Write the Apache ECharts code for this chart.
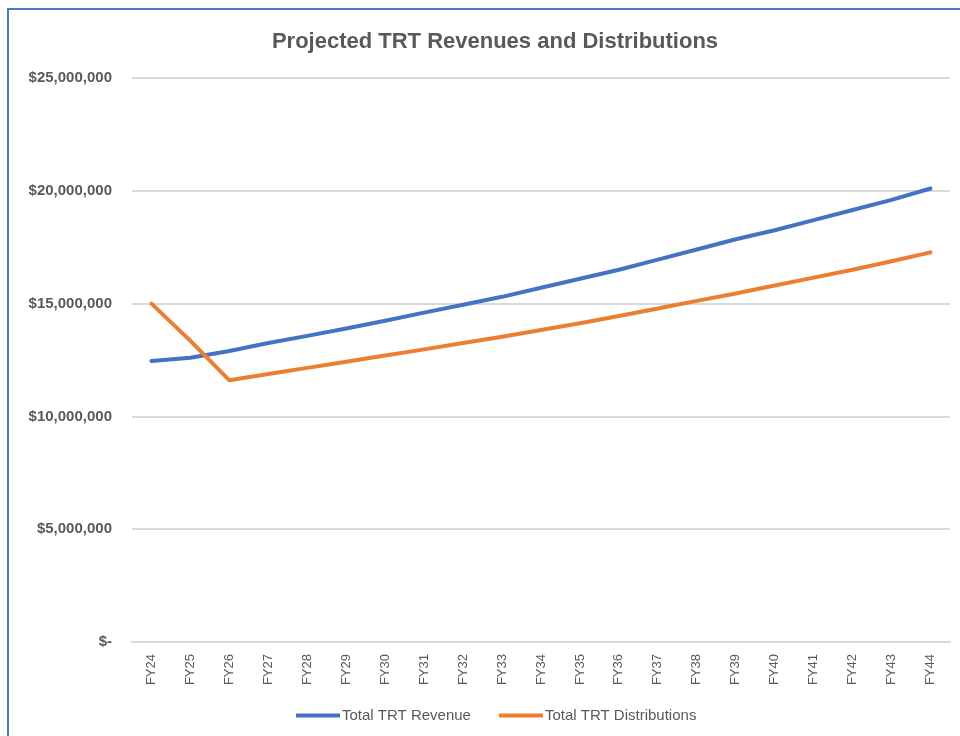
<!DOCTYPE html>
<html>
<head>
<meta charset="utf-8">
<script src="https://cdn.jsdelivr.net/npm/echarts@6/dist/echarts.min.js"></script>
<style>
  html, body { margin: 0; padding: 0; background: #fff; }
  #chart { width: 960px; height: 736px; }
</style>
</head>
<body>
<div id="chart"></div>
<script>
// fiscal years
const years = ['FY24', 'FY25', 'FY26', 'FY27', 'FY28', 'FY29', 'FY30', 'FY31', 'FY32', 'FY33', 'FY34',
  'FY35', 'FY36', 'FY37', 'FY38', 'FY39', 'FY40', 'FY41', 'FY42', 'FY43', 'FY44']

// values in dollars
const revenue = [12460000, 12600000, 12900000, 13250000, 13570000, 13900000, 14240000, 14600000, 14950000,
  15300000, 15700000, 16100000, 16500000, 16950000, 17400000, 17850000, 18250000, 18700000, 19150000,
  19600000, 20100000]
const distributions = [15000000, 13350000, 11600000, 11880000, 12150000, 12420000, 12700000, 12970000,
  13250000, 13530000, 13830000, 14130000, 14450000, 14780000, 15120000, 15450000, 15800000, 16150000,
  16500000, 16880000, 17270000]

const seriesNames = ['Total TRT Revenue', 'Total TRT Distributions']

const textGray = '#595959'
const gridGray = '#d9d9d9'

function moneyLabel(v) {
  if (v === 0) return '$-'
  return '$' + v.toLocaleString('en-US')
}

const chart = echarts.init(document.getElementById('chart'))

chart.setOption({
  animation: false,
  color: ['#4472C4', '#ED7D31'],
  textStyle: { fontFamily: 'Liberation Sans, sans-serif' },
  title: {
    text: 'Projected TRT Revenues and Distributions',
    left: 490,
    top: 26,
    textAlign: 'center',
    textStyle: { color: textGray, fontSize: 22, fontWeight: 'bold' }
  },
  graphic: [{
    // the frame of the chart area, only the left and top edges are in view
    type: 'rect',
    shape: { x: 8, y: 9, width: 1200, height: 1200 },
    style: { fill: 'none', stroke: '#4a7ac2', lineWidth: 2 },
    silent: true
  }],
  legend: {
    bottom: 8,
    left: 291,
    itemWidth: 44,
    itemHeight: 4,
    itemGap: 28,
    icon: 'rect',
    textStyle: { color: textGray, fontSize: 15, padding: [0, 0, 0, -3] },
    data: seriesNames
  },
  grid: { left: 132, right: 10, top: 78, bottom: 94 },
  xAxis: {
    type: 'category',
    data: years,
    boundaryGap: true,
    axisLine: { lineStyle: { color: gridGray, width: 2 } },
    axisTick: { show: false },
    axisLabel: {
      rotate: 90,
      margin: 12,
      color: textGray,
      fontSize: 13,
      interval: 0
    }
  },
  yAxis: {
    type: 'value',
    min: 0,
    max: 25000000,
    interval: 5000000,
    axisLine: { show: false },
    axisTick: { show: false },
    splitLine: { lineStyle: { color: gridGray, width: 2 } },
    axisLabel: {
      margin: 20,
      color: textGray,
      fontSize: 15,
      fontWeight: 'bold',
      formatter: moneyLabel
    }
  },
  series: [
    {
      name: seriesNames[0],
      type: 'line',
      data: revenue,
      symbol: 'none',
      lineStyle: { width: 4, cap: 'round', join: 'round' }
    },
    {
      name: seriesNames[1],
      type: 'line',
      data: distributions,
      symbol: 'none',
      lineStyle: { width: 4, cap: 'round', join: 'round' }
    }
  ]
})
</script>
</body>
</html>
